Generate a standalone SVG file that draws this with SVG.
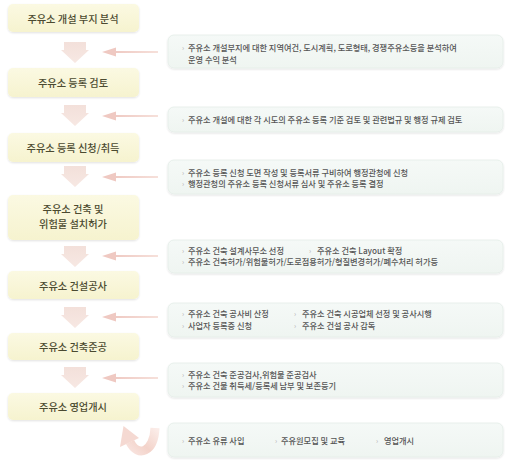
<svg xmlns="http://www.w3.org/2000/svg" width="510" height="461" viewBox="0 0 510 461">
<defs>
<linearGradient id="lg" x1="0" y1="0" x2="0" y2="1">
<stop offset="0" stop-color="#fbf9e2"/>
<stop offset="1" stop-color="#f6f3cf"/>
</linearGradient>
<linearGradient id="rg" x1="0" y1="0" x2="0" y2="1">
<stop offset="0" stop-color="#f5f9f7"/>
<stop offset="1" stop-color="#eff5f1"/>
</linearGradient>
<linearGradient id="dg" x1="0" y1="0" x2="0" y2="1">
<stop offset="0" stop-color="#f3e0da"/>
<stop offset="1" stop-color="#f7e8e3"/>
</linearGradient>
<linearGradient id="hg" x1="0" y1="0" x2="1" y2="0">
<stop offset="0" stop-color="#efc9c2"/>
<stop offset="1" stop-color="#f6e0da"/>
</linearGradient>
<linearGradient id="cg" x1="1" y1="0" x2="0" y2="1">
<stop offset="0" stop-color="#fbece8"/>
<stop offset="0.6" stop-color="#f3d3ca"/>
<stop offset="1" stop-color="#f8e3de"/>
</linearGradient>
<filter id="sh" x="-5%" y="-20%" width="110%" height="150%">
<feGaussianBlur in="SourceAlpha" stdDeviation="1.2"/>
<feOffset dy="1"/>
<feComponentTransfer><feFuncA type="linear" slope="0.12"/></feComponentTransfer>
<feMerge><feMergeNode/><feMergeNode in="SourceGraphic"/></feMerge>
</filter>
<path id="down" d="M64 0 H86 V8 H89 L75 21 L61 8 H64 Z"/>
<g id="left">
<rect x="114" y="-1" width="44" height="2" fill="url(#hg)"/>
<path d="M102 0 L116 -4.5 L116 4.5 Z" fill="#efc9c2"/>
</g>
</defs>
<style>
.lb{fill:url(#lg);filter:url(#sh)}
.rb{fill:url(#rg);stroke:#e4eee9;stroke-width:0.8;filter:url(#sh)}
.lt{font-family:"Noto Sans CJK KR","Noto Sans",sans-serif;font-size:10.2px;font-weight:500;fill:#4b4a30;text-anchor:middle;dominant-baseline:central}
.rt{font-family:"Noto Sans CJK KR","Noto Sans",sans-serif;font-size:8.2px;font-weight:500;fill:#555;dominant-baseline:central}
.bu{font-family:"Noto Sans CJK KR","Noto Sans",sans-serif;font-size:7px;fill:#b0b0b0;dominant-baseline:central}
</style>
<rect width="510" height="461" fill="#ffffff"/>

<g id="connectors">
<use href="#down" y="42" fill="url(#dg)"/>
<use href="#down" y="105" fill="url(#dg)"/>
<use href="#down" y="166" fill="url(#dg)"/>
<use href="#down" y="246" fill="url(#dg)"/>
<use href="#down" y="307" fill="url(#dg)"/>
<use href="#down" y="367" fill="url(#dg)"/>
<use href="#left" y="52"/>
<use href="#left" y="116"/>
<use href="#left" y="177"/>
<use href="#left" y="256"/>
<use href="#left" y="317"/>
<use href="#left" y="378"/>
<path d="M155 428 C154 452 138 458 130 442" fill="none" stroke="url(#cg)" stroke-width="9"/>
<path d="M123.5 426 L139 438 L120 447 Z" fill="#f5d9d2"/>
</g>

<g id="n1"><rect class="lb" x="8" y="4" width="131" height="28" rx="5"/><text class="lt" x="73" y="18">주유소 개설 부지 분석</text></g>
<g id="n2"><rect class="lb" x="8" y="68" width="131" height="29" rx="5"/><text class="lt" x="73" y="82.5">주유소 등록 검토</text></g>
<g id="n3"><rect class="lb" x="8" y="133" width="131" height="29" rx="5"/><text class="lt" x="73" y="147.5">주유소 등록 신청/취득</text></g>
<g id="n4"><rect class="lb" x="8" y="195" width="131" height="45" rx="5"/><text class="lt" x="73" y="208.5">주유소 건축 및</text><text class="lt" x="73" y="223.5">위험물 설치허가</text></g>
<g id="n5"><rect class="lb" x="8" y="271" width="131" height="28" rx="5"/><text class="lt" x="73" y="285">주유소 건설공사</text></g>
<g id="n6"><rect class="lb" x="8" y="333" width="131" height="27" rx="5"/><text class="lt" x="73" y="346.5">주유소 건축준공</text></g>
<g id="n7"><rect class="lb" x="8" y="393" width="131" height="27" rx="5"/><text class="lt" x="73" y="406.5">주유소 영업개시</text></g>

<g id="d1"><rect class="rb" x="168" y="35" width="335" height="33" rx="6"/>
<text class="bu" x="182" y="47">›</text><text class="rt" x="188" y="47">주유소 개설부지에 대한 지역여건, 도시계획, 도로형태, 경쟁주유소등을 분석하여</text>
<text class="rt" x="188" y="58.5">운영 수익 분석</text></g>
<g id="d2"><rect class="rb" x="168" y="107" width="335" height="25" rx="6"/>
<text class="bu" x="182" y="119">›</text><text class="rt" x="188" y="119">주유소 개설에 대한 각 시도의 주유소 등록 기준 검토 및 관련법규 및 행정 규제 검토</text></g>
<g id="d3"><rect class="rb" x="168" y="160" width="335" height="34" rx="6"/>
<text class="bu" x="182" y="172">›</text><text class="rt" x="188" y="172">주유소 등록 신청 도면 작성 및 등록서류 구비하여 행정관청에 신청</text>
<text class="bu" x="182" y="183">›</text><text class="rt" x="188" y="183">행정관청의 주유소 등록 신청서류 심사 및 주유소 등록 결정</text></g>
<g id="d4"><rect class="rb" x="168" y="240" width="335" height="33" rx="6"/>
<text class="bu" x="182" y="249.5">›</text><text class="rt" x="188" y="249.5">주유소 건축 설계사무소 선정</text>
<text class="bu" x="309" y="249.5">›</text><text class="rt" x="317" y="249.5">주유소 건축 Layout 확정</text>
<text class="bu" x="182" y="261">›</text><text class="rt" x="188" y="261">주유소 건축허가/위험물허가/도로점용허가/형질변경허가/폐수처리 허가등</text></g>
<g id="d5"><rect class="rb" x="168" y="303" width="335" height="34" rx="6"/>
<text class="bu" x="182" y="313">›</text><text class="rt" x="188" y="313">주유소 건축 공사비 산정</text>
<text class="bu" x="294" y="313">›</text><text class="rt" x="302" y="313">주유소 건축 시공업체 선정 및 공사시행</text>
<text class="bu" x="182" y="325">›</text><text class="rt" x="188" y="325">사업자 등록증 신청</text>
<text class="bu" x="294" y="325">›</text><text class="rt" x="302" y="325">주유소 건설 공사 감독</text></g>
<g id="d6"><rect class="rb" x="168" y="363" width="335" height="34" rx="6"/>
<text class="bu" x="182" y="374">›</text><text class="rt" x="188" y="374">주유소 건축 준공검사,위험물 준공검사</text>
<text class="bu" x="182" y="385">›</text><text class="rt" x="188" y="385">주유소 건물 취득세/등록세 납부 및 보존등기</text></g>
<g id="d7"><rect class="rb" x="168" y="423" width="335" height="34" rx="6"/>
<text class="bu" x="182" y="440">›</text><text class="rt" x="188" y="440">주유소 유류 사입</text>
<text class="bu" x="275" y="440">›</text><text class="rt" x="281" y="440">주유원모집 및 교육</text>
<text class="bu" x="376" y="440">›</text><text class="rt" x="384" y="440">영업개시</text></g>
</svg>
